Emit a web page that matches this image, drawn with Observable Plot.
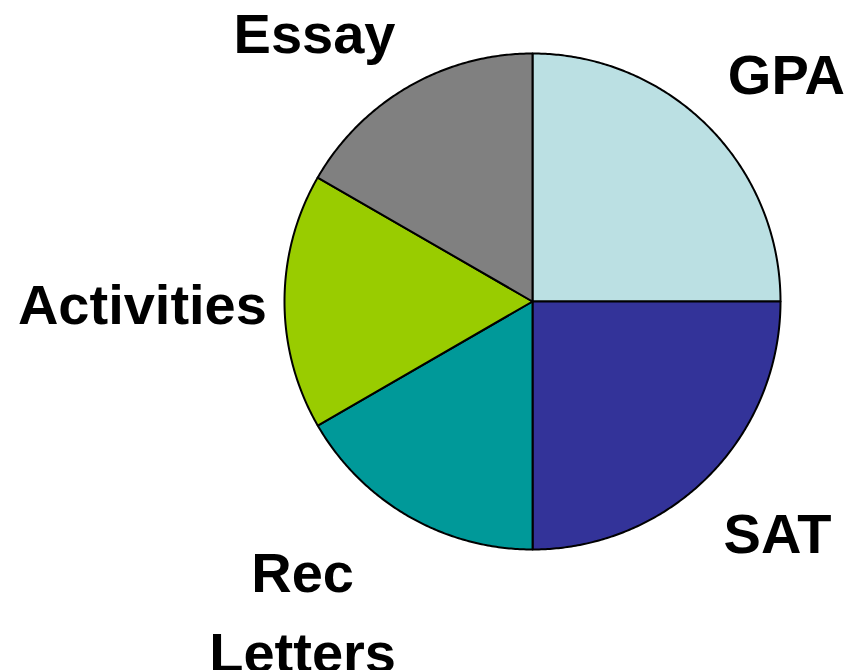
<!DOCTYPE html>
<html>
<head>
<meta charset="utf-8">
<script src="https://cdn.jsdelivr.net/npm/d3@7"></script>
<script src="https://cdn.jsdelivr.net/npm/@observablehq/plot@0.6"></script>
<style>
  html, body { margin: 0; padding: 0; background: #ffffff; }
  #chart { width: 851px; height: 670px; overflow: hidden; }
</style>
</head>
<body>
<div id="chart"></div>
<script>
// Data
const categories = ["GPA", "SAT", "Rec\nLetters", "Activities", "Essay"];
const shares = [25, 25, 16.67, 16.67, 16.67];
const colors = ["#BBE0E3", "#333399", "#009999", "#99CC00", "#808080"];

// Label anchors (pie-radius units, relative to the pie centre)
const labelX = [1.024, 0.988, -0.927, -1.573, -0.879];
const labelY = [0.939, -0.911, -1.230, 0.014, 1.107];

// Layout
const W = 851, H = 670;
const cx = 532, cy = 301, R = 248;

const arcs = d3.pie().sort(null).startAngle(0).endAngle(2 * Math.PI)(shares);

const polys = [];
arcs.forEach((a, i) => {
  const name = categories[i];
  polys.push({name, x: 0, y: 0});
  const n = Math.max(2, Math.ceil((a.endAngle - a.startAngle) / (Math.PI / 360)));
  for (let k = 0; k <= n; k++) {
    const t = a.startAngle + (a.endAngle - a.startAngle) * k / n;
    polys.push({name, x: Math.sin(t), y: Math.cos(t)});
  }
  polys.push({name, x: 0, y: 0});
});

const labels = categories.map((c, i) => ({text: c, x: labelX[i], y: labelY[i]}));

const chart = Plot.plot({
  width: W,
  height: H,
  margin: 0,
  x: {domain: [-cx / R, (W - cx) / R], range: [0, W], axis: null},
  y: {domain: [(cy - H) / R, cy / R], range: [H, 0], axis: null},
  color: {domain: categories, range: colors},
  style: {background: "#ffffff"},
  marks: [
    Plot.line(polys, {
      x: "x", y: "y", z: "name",
      fill: "name",
      stroke: "#000000",
      strokeWidth: 2,
      strokeLinejoin: "round",
      curve: "linear"
    }),
    Plot.text(labels, {
      x: "x", y: "y", text: "text",
      textAnchor: "middle",
      lineAnchor: "middle",
      lineHeight: 1.43,
      fontSize: 56,
      fontWeight: "bold",
      fontFamily: "'Liberation Sans', Arial, sans-serif",
      fill: "#000000"
    })
  ]
});
document.getElementById("chart").appendChild(chart);
</script>
</body>
</html>
